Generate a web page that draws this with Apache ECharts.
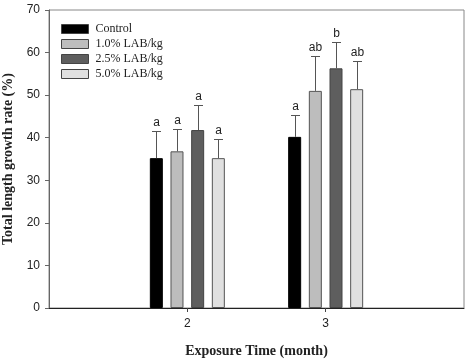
<!DOCTYPE html>
<html>
<head>
<meta charset="utf-8">
<script src="https://cdn.jsdelivr.net/npm/echarts@6/dist/echarts.min.js"></script>
<style>
  html, body { margin: 0; padding: 0; background: #fff; }
  #chart { width: 466px; height: 360px; }
</style>
</head>
<body>
<div id="chart"></div>
<script>
// data
var months = ['', '2', '3', ''];
var groups = ['Control', '1.0% LAB/kg', '2.5% LAB/kg', '5.0% LAB/kg'];
var means = [
    ['-', 35.2, 40.2, '-'],
    ['-', 36.8, 51.0, '-'],
    ['-', 41.8, 56.3, '-'],
    ['-', 35.2, 51.4, '-']
];
var errTops = [
    ['-', 41.5, 45.4, '-'],
    ['-', 42.1, 59.1, '-'],
    ['-', 47.7, 62.6, '-'],
    ['-', 39.7, 58.0, '-']
];
var letters = [
    ['', 'a', 'a', ''],
    ['', 'a', 'ab', ''],
    ['', 'a', 'b', ''],
    ['', 'a', 'ab', '']
];
var colors = ['#000000', '#bdbdbd', '#5e5e5e', '#e0e0e0'];
var borders = ['#000000', '#555555', '#444444', '#555555'];

var barW = 13;
var barGap = '59%';

var myChart = echarts.init(document.getElementById('chart'));

var series = [];
groups.forEach(function (g, i) {
    series.push({
        name: g,
        type: 'bar',
        data: means[i],
        barWidth: barW,
        barGap: barGap,
        itemStyle: { color: colors[i], borderColor: borders[i], borderWidth: 1 },
        z: 2
    });
});
// error bars + letters
groups.forEach(function (g, i) {
    var d = [];
    for (var k = 0; k < months.length; k++) {
        if (means[i][k] !== '-') d.push([k, means[i][k], errTops[i][k], letters[i][k]]);
    }
    series.push({
        type: 'custom',
        data: d,
        z: 3,
        silent: true,
        renderItem: function (params, api) {
            var layout = api.barLayout({ barWidth: barW, barGap: barGap, count: groups.length });
            var off = layout[i].offsetCenter;
            var base = api.coord([api.value(0), api.value(1)]);
            var top = api.coord([api.value(0), api.value(2)]);
            var x = Math.round(base[0] + off) + 0.5;
            var capY = Math.round(top[1]) + 0.5;
            var st = { stroke: '#555', lineWidth: 1 };
            return {
                type: 'group',
                children: [
                    { type: 'line', shape: { x1: x, y1: base[1], x2: x, y2: capY }, style: st },
                    { type: 'line', shape: { x1: x - 4.5, y1: capY, x2: x + 4.5, y2: capY }, style: st },
                    {
                        type: 'text',
                        style: {
                            x: x, y: capY - 3,
                            text: letters[i][api.value(0)],
                            fill: '#222',
                            font: '12px "Liberation Sans", Arial, sans-serif',
                            align: 'center', verticalAlign: 'bottom'
                        }
                    }
                ]
            };
        }
    });
});

var option = {
    animation: false,
    textStyle: { fontFamily: '"Liberation Sans", Arial, sans-serif' },
    legend: {
        orient: 'vertical',
        left: 61,
        top: 23,
        padding: 0,
        icon: 'rect',
        itemWidth: 27,
        itemHeight: 9,
        itemGap: 3,
        data: groups,
        itemStyle: { borderColor: '#444', borderWidth: 1 },
        textStyle: { fontFamily: '"Liberation Serif", "Times New Roman", serif', fontSize: 12, color: '#222', padding: [0, 0, 0, 2] }
    },
    grid: {
        left: 49, right: 2, top: 10, bottom: 52,
        outerBoundsMode: 'none',
        containLabel: false,
        show: true, borderColor: '#888', borderWidth: 1
    },
    xAxis: {
        type: 'category',
        data: months,
        boundaryGap: false,
        name: 'Exposure Time (month)',
        nameLocation: 'middle',
        nameGap: 36,
        nameTextStyle: { fontFamily: '"Liberation Serif", "Times New Roman", serif', fontWeight: 'bold', fontSize: 14, color: '#222' },
        axisLine: { lineStyle: { color: '#222', width: 1 } },
        axisTick: {
            length: 4,
            interval: function (idx, val) { return val !== ''; },
            lineStyle: { color: '#444' }
        },
        axisLabel: { color: '#222', fontSize: 12, margin: 10, interval: 0 },
        splitLine: { show: false }
    },
    yAxis: {
        type: 'value',
        min: 0, max: 70, interval: 10,
        name: 'Total length growth rate (%)',
        nameLocation: 'middle',
        nameGap: 33,
        nameTextStyle: { fontFamily: '"Liberation Serif", "Times New Roman", serif', fontWeight: 'bold', fontSize: 14, color: '#222' },
        axisLine: { show: true, lineStyle: { color: '#666' } },
        axisTick: { show: true, length: 4, lineStyle: { color: '#666' } },
        axisLabel: { color: '#222', fontSize: 12, margin: 9 },
        splitLine: { show: false }
    },
    series: series
};
myChart.setOption(option);
</script>
</body>
</html>
